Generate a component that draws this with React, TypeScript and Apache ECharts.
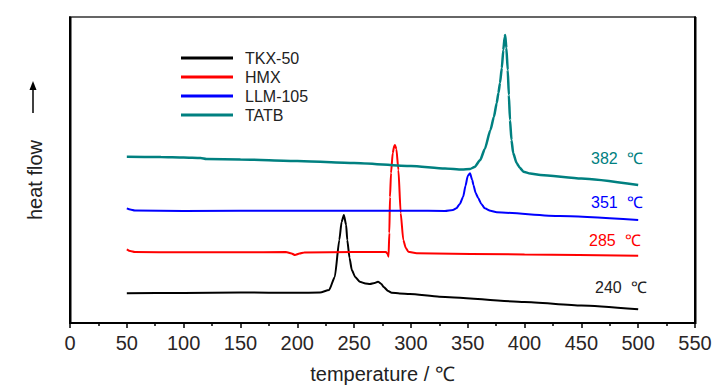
import React, { useEffect, useRef } from "react";
import * as echarts from "echarts";

// Temperatures (°C) and relative heat-flow values (arbitrary units, offset curves)
const tkxT = [50, 100, 150, 200, 220, 228, 233, 237, 239, 241, 243, 244, 246, 248, 251, 255, 260, 264, 268, 271, 274, 276, 280, 283, 290, 299, 325, 400, 450, 500];
const tkxV = [29.7, 30, 30.5, 30.2, 30.5, 33, 46, 83, 101, 108, 98, 83, 65, 53, 46, 41.3, 39.5, 39, 40, 41.3, 39, 36, 32, 30.3, 29.5, 29, 26.3, 21, 17.5, 13.7];

const hmxT = [50, 53, 57, 100, 150, 190, 195, 198, 202, 206, 250, 278, 279.5, 280.3, 281, 281.6, 282.5, 284, 285.3, 286, 287.2, 289, 291, 293.3, 295.5, 297.7, 305, 400, 500];
const hmxV = [73.7, 72, 71, 70.7, 70.7, 71, 69.5, 68, 69.5, 70.5, 71, 71, 69, 66.3, 90, 126, 150, 170, 177, 178, 174, 153, 110, 83, 75, 71.3, 69.7, 68.5, 67.3];

const llmT = [50, 53, 57, 100, 200, 300, 330, 337, 340, 343, 346, 348, 350, 352, 354, 355, 357, 359.3, 362, 365, 370, 375.5, 431, 500];
const llmV = [114.7, 113.5, 112.5, 112, 112.3, 112.3, 112, 113, 114.7, 119, 126.3, 137, 147, 149.7, 143, 138, 130, 124.7, 119, 114.7, 112.2, 110.7, 107, 103];

const tatbT = [50, 80, 100, 115, 120, 150, 200, 250, 300, 330, 345, 352, 356, 361, 365, 370, 373, 375.5, 377, 378.4, 380, 381.3, 382.5, 383, 384, 385.2, 386.2, 387.2, 388.5, 390, 393, 396, 399, 405, 414, 450, 500];
const tatbV = [166.3, 166, 165.5, 165, 164, 163.5, 162, 160, 157, 154.5, 153.5, 154, 156, 163, 174, 193, 206, 220, 230, 240, 255, 273, 286, 288, 275, 253, 228, 203, 183, 170, 160, 155, 151.3, 149.5, 148, 144.5, 138];

const seriesNames = ["TKX-50", "HMX", "LLM-105", "TATB"];
const seriesColors = ["#000000", "#ff0000", "#0000ff", "#008080"];
const peakLabels = ["240\u00a0\u00a0℃", "285\u00a0\u00a0℃", "351\u00a0\u00a0℃", "382\u00a0\u00a0℃"];

const xTicks = { min: 0, max: 550, interval: 50 };

function zip(t: number[], v: number[]) {
  return t.map((x, i) => [x, v[i]]);
}

export default function App() {
  const ref = useRef<HTMLDivElement>(null);
  useEffect(() => {
    if (!ref.current) return;
    const chart = echarts.init(ref.current, undefined, { renderer: "svg" });
    const data = [zip(tkxT, tkxV), zip(hmxT, hmxV), zip(llmT, llmV), zip(tatbT, tatbV)];
    const font = "'Liberation Sans', Arial, sans-serif";
    const labelPos = [
      { x: 595, y: 287 },
      { x: 589, y: 240 },
      { x: 591, y: 202 },
      { x: 591, y: 158 },
    ];
    chart.setOption({
      animation: false,
      backgroundColor: "#ffffff",
      textStyle: { fontFamily: font },
      grid: {
        left: 70,
        right: 31,
        top: 17,
        bottom: 67,
      },
      legend: {
        orient: "vertical",
        left: 176,
        top: 45,
        itemWidth: 52,
        itemHeight: 3,
        itemGap: 3,
        icon: "rect",
        data: seriesNames,
        textStyle: { fontSize: 16, color: "#222", fontFamily: font, padding: [0, 0, 0, 7], lineHeight: 15 },
      },
      xAxis: [
        {
          type: "value",
          min: xTicks.min,
          max: xTicks.max,
          interval: xTicks.interval,
          name: "temperature / ℃",
          nameLocation: "middle",
          nameGap: 41,
          nameTextStyle: { fontSize: 20, color: "#222", fontFamily: font },
          axisLine: { show: true, onZero: false, lineStyle: { color: "#000", width: 2 } },
          axisTick: { show: true, inside: false, length: 5, lineStyle: { color: "#000", width: 1.5 } },
          minorTick: { show: true, splitNumber: 2, length: 3, lineStyle: { color: "#000", width: 1.5 } },
          axisLabel: { fontSize: 20, color: "#2a2526", margin: 10, fontFamily: font },
          splitLine: { show: false },
        },
        {
          type: "value",
          position: "top",
          min: xTicks.min,
          max: xTicks.max,
          interval: xTicks.interval,
          axisLine: { show: true, onZero: false, lineStyle: { color: "#333", width: 1.5 } },
          axisTick: { show: false },
          axisLabel: { show: false },
          splitLine: { show: false },
        },
      ],
      yAxis: [
        {
          type: "value",
          position: "left",
          min: 0,
          max: 306,
          axisLine: { show: true, onZero: false, lineStyle: { color: "#000", width: 2 } },
          axisTick: { show: false },
          axisLabel: { show: false },
          splitLine: { show: false },
        },
        {
          type: "value",
          position: "right",
          min: 0,
          max: 306,
          axisLine: { show: true, onZero: false, lineStyle: { color: "#000", width: 2 } },
          axisTick: { show: false },
          axisLabel: { show: false },
          splitLine: { show: false },
        },
      ],
      series: seriesNames.map((name, i) => ({
        name,
        type: "line",
        data: data[i],
        showSymbol: false,
        symbol: "none",
        smooth: 0.2,
        smoothMonotone: "x",
        lineStyle: { color: seriesColors[i], width: i === 3 ? 2.5 : 2 },
        itemStyle: { color: seriesColors[i] },
      })),
      graphic: [
        {
          type: "rect",
          z: 10,
          shape: { x: 69, y: 17, width: 2.5, height: 307 },
          style: { fill: "#000" },
        },
        {
          type: "rect",
          z: 10,
          shape: { x: 694, y: 17, width: 2.5, height: 307 },
          style: { fill: "#000" },
        },
        ...peakLabels.map((t, i) => ({
          type: "text",
          x: labelPos[i].x,
          y: labelPos[i].y,
          style: {
            text: t,
            fontSize: 16,
            fontFamily: font,
            fill: i === 0 ? "#222" : seriesColors[i],
            verticalAlign: "middle",
          },
        })),
        {
          type: "text",
          x: 35,
          y: 180,
          rotation: Math.PI / 2,
          style: {
            text: "heat flow",
            fontSize: 20,
            fontFamily: font,
            fill: "#222",
            align: "center",
            verticalAlign: "middle",
          },
        },
        {
          type: "line",
          shape: { x1: 33, y1: 113, x2: 33, y2: 88 },
          style: { stroke: "#000", lineWidth: 1.5 },
        },
        {
          type: "polygon",
          shape: { points: [[33, 81], [29.5, 90], [36.5, 90]] },
          style: { fill: "#000" },
        },
      ],
    });
    return () => chart.dispose();
  }, []);
  return (
    <div
      ref={ref}
      style={{ position: "fixed", left: 0, top: 0, width: 726, height: 390 }}
    />
  );
}
